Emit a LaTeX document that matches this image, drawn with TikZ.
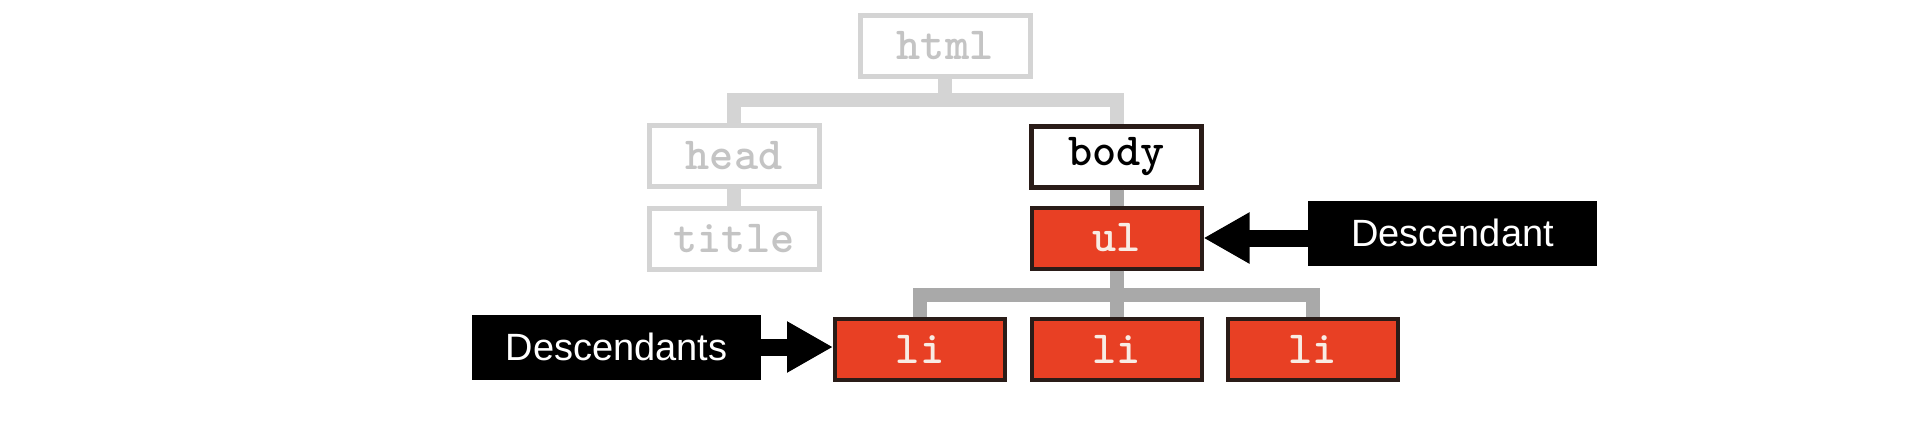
\documentclass[tikz,border=0pt]{standalone}
\usepackage{fontspec}
\setmainfont{Liberation Sans}
\setsansfont{Liberation Sans}
\newfontfamily\codefont{lmmonolt10-bold.otf}
\usetikzlibrary{arrows.meta}
\definecolor{lightg}{HTML}{D4D4D4}
\definecolor{lighttxt}{HTML}{C4C4C4}
\definecolor{midg}{HTML}{A9A9A9}
\definecolor{redbox}{HTML}{E84024}
\definecolor{darkb}{HTML}{2A1C18}
\definecolor{redtxt}{HTML}{F8ECE4}
\tikzset{
  box/.style={rectangle, minimum width=85pt, minimum height=30.5pt, inner sep=0pt,
    font=\codefont\fontsize{23}{23}\selectfont},
  lightbox/.style={box, draw=lightg, line width=2.5pt, text=lighttxt, fill=white},
  bodybox/.style={box, draw=darkb, line width=2.5pt, text=black, fill=white},
  rednode/.style={box, draw=darkb, line width=2pt, fill=redbox, text=redtxt},
  label/.style={rectangle, fill=black, text=white, inner sep=0pt,
    minimum width=144.5pt, minimum height=32.5pt, font=\sffamily\fontsize{19}{19}\selectfont},
  lightbar/.style={draw=lightg, line width=7pt},
  midbar/.style={draw=midg, line width=7pt},
  pointer/.style={draw=black, line width=8.5pt, -{Triangle[length=23pt,width=24pt]}}
}
\begin{document}
\begin{tikzpicture}[x=0.5pt,y=-0.5pt]
\useasboundingbox (0,0) rectangle (1912,446);
% nodes
\node[lightbox] (html) at (945,45.5) {html};
\node[lightbox] (head) at (734,156) {head};
\node[lightbox] (title) at (734,239) {title};
\node[bodybox] (body) at (1116.5,156.5) {body};
\node[rednode] (ul) at (1116.5,238) {ul};
\node[rednode] (li1) at (920,349.5) {li};
\node[rednode] (li2) at (1116.5,349.5) {li};
\node[rednode] (li3) at (1312.5,349.5) {li};
\node[label] (desc1) at (1452.5,233) {Descendant};
\node[label] (desc2) at (616.5,347) {Descendants};
\coordinate (bus1) at (945,100);
\coordinate (bus2) at (1116.5,295);
% connectors
\draw[lightbar] (html.south) -- (bus1);
\draw[lightbar] (head.north) -- (head.north |- bus1) -- (body.north |- bus1) -- (body.north);
\draw[lightbar] (head.south) -- (title.north);
\draw[midbar] (body.south) -- (ul.north);
\draw[midbar] (ul.south) -- (li2.north);
\draw[midbar] (li1.north) -- (li1.north |- bus2) -- (li3.north |- bus2) -- (li3.north);
% pointers
\draw[pointer] (desc1.west |- ul.east) -- (ul.east);
\draw[pointer] (desc2.east) -- (li1.west |- desc2.east);
\end{tikzpicture}
\end{document}
